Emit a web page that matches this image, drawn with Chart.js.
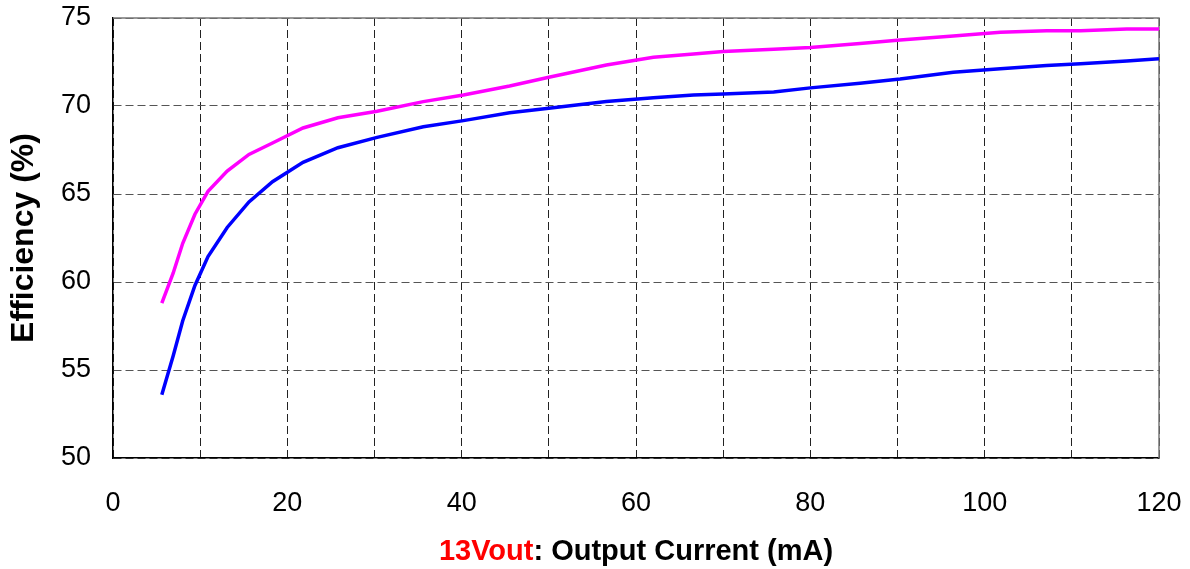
<!DOCTYPE html>
<html>
<head>
<meta charset="utf-8">
<script src="https://cdn.jsdelivr.net/npm/chart.js@4/dist/chart.umd.min.js"></script>
<style>
  html, body { margin: 0; padding: 0; background: #fff; }
  #wrap { position: relative; width: 1190px; height: 569px; }
  #xtitle {
    position: absolute; left: 113px; width: 1046px; top: 534px;
    text-align: center; font: bold 29px "Liberation Sans", Arial, sans-serif; color: #000;
  }
  #xtitle span { color: #ff0000; }
</style>
</head>
<body>
<div id="wrap">
  <canvas id="chart" width="1190" height="569"></canvas>
  <div id="xtitle"><span>13Vout</span>: Output Current (mA)</div>
</div>
<script>
// output current (mA)
const currents = [5.6, 6.9, 8.0, 9.4, 10.9, 13.1, 15.6, 18.3, 21.8, 25.8, 30.3, 35.6, 40.2, 45.5, 50.0,
  56.6, 62.0, 66.6, 70.0, 75.8, 80.0, 85.7, 90.3, 96.4, 101.8, 107.1, 111.0, 116.3, 120.0];
// efficiency (%)
const effMagenta = [58.8, 60.5, 62.2, 63.85, 65.15, 66.3, 67.25, 67.9, 68.75, 69.33, 69.7, 70.25, 70.63, 71.14, 71.63,
  72.33, 72.77, 72.95, 73.1, 73.22, 73.33, 73.55, 73.75, 73.98, 74.19, 74.28, 74.28, 74.38, 74.38];
const effBlue = [53.6, 55.8, 57.8, 59.8, 61.45, 63.1, 64.55, 65.7, 66.8, 67.63, 68.22, 68.82, 69.17, 69.62, 69.87,
  70.25, 70.47, 70.62, 70.68, 70.8, 71.03, 71.29, 71.53, 71.92, 72.12, 72.3, 72.4, 72.55, 72.69];

const toPoints = ys => currents.map((x, i) => ({ x: x, y: ys[i] }));

const frame = {
  id: 'frame',
  beforeDatasetsDraw(chart) {
    const { ctx, chartArea: a } = chart;
    ctx.save();
    ctx.strokeStyle = '#777';
    ctx.lineWidth = 1.5;
    ctx.beginPath();
    ctx.moveTo(a.left, a.top);
    ctx.lineTo(a.right, a.top);
    ctx.lineTo(a.right, a.bottom);
    ctx.stroke();
    ctx.restore();
  }
};

const font = { family: '"Liberation Sans", Arial, sans-serif', size: 27 };

new Chart(document.getElementById('chart').getContext('2d'), {
  type: 'line',
  data: {
    datasets: [
      { data: toPoints(effMagenta), borderColor: '#ff00ff', borderWidth: 3.5, pointRadius: 0, tension: 0 },
      { data: toPoints(effBlue), borderColor: '#0000ff', borderWidth: 3.5, pointRadius: 0, tension: 0 }
    ]
  },
  options: {
    responsive: false,
    animation: false,
    layout: { padding: { left: 0, right: 31, top: 18, bottom: 0 } },
    plugins: { legend: { display: false }, tooltip: { enabled: false } },
    scales: {
      x: {
        type: 'linear', min: 0, max: 120,
        afterFit: s => { s.height = 111; s.paddingLeft = 0; s.paddingRight = 0; },
        grid: { color: '#222', lineWidth: 1, drawTicks: false },
        border: { color: '#000', width: 1.5, dash: [8, 4] },
        ticks: {
          stepSize: 10, autoSkip: false, maxRotation: 0, padding: 29, color: '#000', font: font,
          callback: v => (v % 20 === 0 ? v : '')
        }
      },
      y: {
        min: 50, max: 75,
        afterFit: s => { s.width = 113; s.paddingTop = 0; s.paddingBottom = 0; },
        grid: { color: '#555', lineWidth: 1, drawTicks: false },
        border: { color: '#000', width: 1.5, dash: [8, 4] },
        ticks: { stepSize: 5, padding: 22, color: '#000', font: font },
        title: {
          display: true, text: 'Efficiency (%)', color: '#000',
          font: { family: font.family, size: 32, weight: 'bold' },
          padding: { top: 5, bottom: 0 }
        }
      }
    }
  },
  plugins: [frame]
});
</script>
</body>
</html>
